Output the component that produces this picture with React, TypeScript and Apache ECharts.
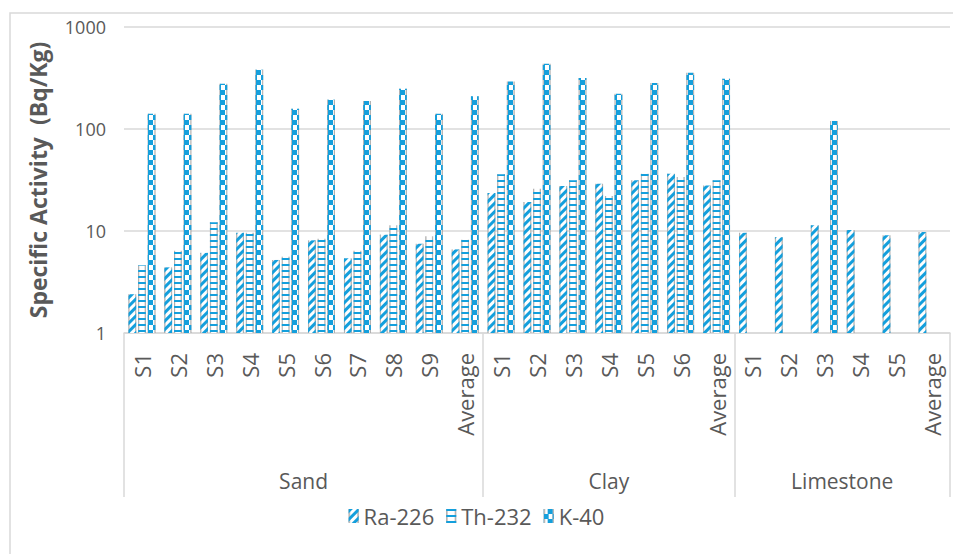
import React, { useEffect, useRef } from "react";
import * as echarts from "echarts";

const subCategories = [
  "S1", "S2", "S3", "S4", "S5", "S6", "S7", "S8", "S9", "Average",
  "S1", "S2", "S3", "S4", "S5", "S6", "Average",
  "S1", "S2", "S3", "S4", "S5", "Average",
];
const groupNames = ["Sand", "Clay", "Limestone"];
const groupSizes = [10, 7, 6];

const ra226 = [2.4, 4.4, 6.1, 9.6, 5.2, 8.1, 5.4, 9.2, 7.5, 6.6, 23.6, 19.2, 27.6, 29.1, 31.4, 36.5, 28, 9.6, 8.7, 11.4, 10.2, 9.1, 9.8];
const th232 = [4.6, 6.4, 12.2, 9.6, 5.6, 8.4, 6.4, 11.4, 8.9, 8.2, 36, 26, 31.4, 22, 36.5, 33.8, 31.4, null, null, null, null, null, null];
const k40 = [141, 141, 278, 382, 158, 194, 188, 248, 141, 209, 293, 437, 316, 222, 282, 357, 311, null, null, 120, null, null, null];

const yTicks = [1, 10, 100, 1000];

const BLUE = "#149fdc";
const TEXT = "#595959";
const LINE = "#d9d9d9";
const FONT = "'Open Sans', sans-serif";

// build the half-step group axis (boundary points + group centres)
const total = groupSizes.reduce((a, b) => a + b, 0);
const groupAxisData: string[] = new Array(total * 2 + 1).fill("");
const boundaryIdx: number[] = [0];
{
  let start = 0;
  groupSizes.forEach((n, i) => {
    groupAxisData[2 * start + n] = groupNames[i];
    start += n;
    boundaryIdx.push(2 * start);
  });
}

const barFill = {
  type: "linear",
  x: 0, y: 0, x2: 1, y2: 0,
  colorStops: [
    { offset: 0, color: "#8f8f8f" },
    { offset: 0.22, color: "#ffffff" },
    { offset: 0.78, color: "#ffffff" },
    { offset: 1, color: "#8f8f8f" },
  ],
};

export default function App() {
  const ref = useRef<HTMLDivElement>(null);
  useEffect(() => {
    if (!ref.current) return;
    const chart = echarts.init(ref.current, undefined, { renderer: "svg" });
    const mkSeries = (name: string, data: (number | null)[], decal: any) => ({
      name,
      type: "bar",
      xAxisIndex: 0,
      data,
      barGap: "25%",
      barCategoryGap: "25%",
      itemStyle: { color: barFill, decal: { color: BLUE, symbol: "rect", symbolSize: 1, ...decal } },
    });
    chart.setOption({
      animation: false,
      backgroundColor: "#ffffff",
      textStyle: { fontFamily: FONT },
      graphic: [
        {
          type: "rect",
          shape: { x: 10, y: 13, width: 1000, height: 600 },
          style: { fill: "none", stroke: LINE, lineWidth: 1.5 },
          z: -1,
        },
      ],
      grid: { left: 124, top: 27, width: 831, height: 306 },
      legend: {
        bottom: 22,
        left: "center",
        icon: "rect",
        itemWidth: 10,
        itemHeight: 14,
        itemGap: 12,
        textStyle: { fontSize: 22, color: TEXT, fontFamily: FONT },
        data: ["Ra-226", "Th-232", "K-40"],
      },
      xAxis: [
        {
          type: "category",
          data: subCategories,
          boundaryGap: true,
          axisLine: { lineStyle: { color: LINE, width: 1.5 } },
          axisTick: { show: false },
          axisLabel: { rotate: 90, interval: 0, margin: 20, fontSize: 22, color: TEXT, fontFamily: FONT },
        },
        {
          type: "category",
          position: "bottom",
          data: groupAxisData,
          boundaryGap: false,
          axisLine: { show: false },
          axisTick: {
            show: true,
            interval: (idx: number) => boundaryIdx.includes(idx),
            length: 164,
            lineStyle: { color: LINE, width: 1.5 },
          },
          axisLabel: { interval: 0, margin: 137, fontSize: 21, color: TEXT, fontFamily: FONT },
        },
      ],
      yAxis: {
        type: "log",
        logBase: 10,
        min: yTicks[0],
        max: yTicks[yTicks.length - 1],
        name: "Specific Activity  (Bq/Kg)",
        nameLocation: "middle",
        nameGap: 75,
        nameTextStyle: { fontSize: 23, fontWeight: "bold", color: TEXT, fontFamily: FONT },
        axisLine: { show: false },
        axisTick: { show: false },
        axisLabel: { fontSize: 18, color: TEXT, margin: 18, fontFamily: FONT, formatter: (v: number) => String(Math.round(v)) },
        splitLine: { lineStyle: { color: LINE, width: 1.5 } },
      },
      series: [
        mkSeries("Ra-226", ra226, { dashArrayX: [1, 0], dashArrayY: [3, 3], rotation: -Math.PI / 4 }),
        mkSeries("Th-232", th232, { dashArrayX: [1, 0], dashArrayY: [2, 4], rotation: 0 }),
        mkSeries("K-40", k40, { dashArrayX: [[5, 4], [0, 4, 5, 0]], dashArrayY: [5, 0], rotation: 0 }),
      ],
    });
    return () => chart.dispose();
  }, []);
  return (
    <div
      ref={ref}
      style={{ position: "fixed", left: 0, top: 0, width: 953, height: 554, background: "#fff" }}
    />
  );
}
